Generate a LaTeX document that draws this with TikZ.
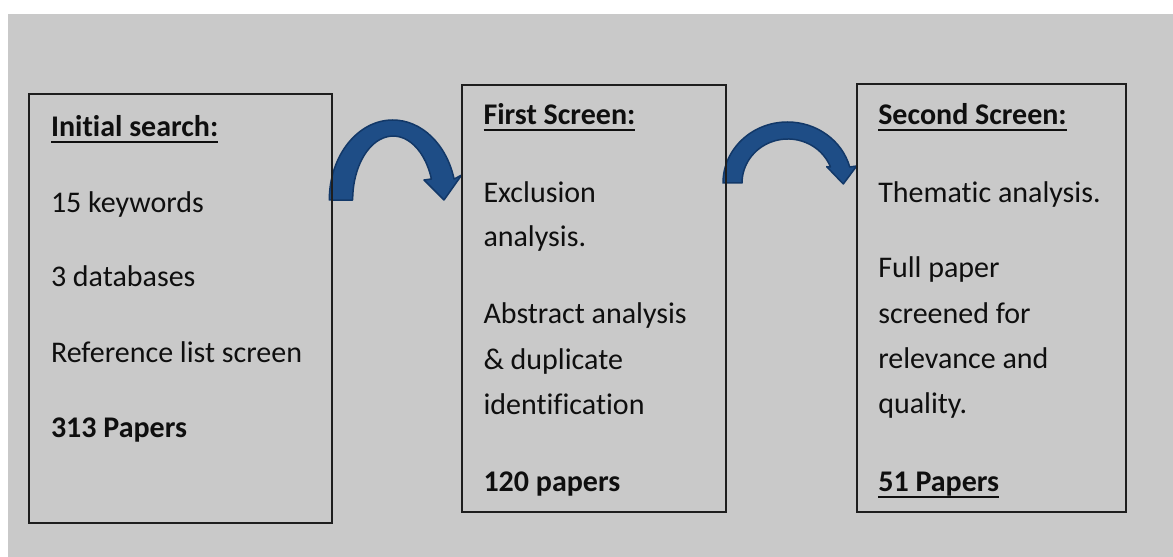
\documentclass[tikz,border=0pt]{standalone}
\usepackage{fontspec}
\setmainfont{Carlito}[Ligatures={NoCommon}]
\newcommand\myul[1]{\setbox0\hbox{#1}\rlap{\rule[-6pt]{\wd0}{2pt}}#1}
\definecolor{bggray}{RGB}{201,201,201}
\definecolor{arrowblue}{RGB}{30,77,134}
\definecolor{arrowedge}{RGB}{18,56,104}
\definecolor{boxedge}{RGB}{30,30,30}
\definecolor{txtcol}{RGB}{15,15,15}
\begin{document}
\begin{tikzpicture}[x=1pt,y=1pt,
  boxst/.style={draw=boxedge, line width=2pt, inner sep=0pt, outer sep=0pt},
  txt/.style={anchor=base west, inner sep=0pt, outer sep=0pt, text=txtcol, font=\fontsize{30}{36}\selectfont},
  bold/.style={txt, font=\fontsize{30}{36}\selectfont\bfseries},
  arrowst/.style={fill=arrowblue, draw=arrowedge, line width=1.5pt, line join=round}]
\useasboundingbox (0,0) rectangle (1173,557);
\fill[white] (0,0) rectangle (1173,557);
\fill[bggray] (8,0) rectangle (1173,543);
% curved arrows
\path[arrowst] (329.3,357) arc[start angle=180, end angle=15.2, x radius=63.5, y radius=80]
  -- (461.7,382) -- (444,357) -- (424,377) -- (431.4,378)
  arc[start angle=19.2, end angle=180, x radius=40.5, y radius=64] -- cycle;
\path[arrowst] (723,374) arc[start angle=180, end angle=15.2, x radius=64.5, y radius=61]
  -- (856.7,391) -- (843.3,373) -- (826.7,390.3) -- (830.5,390)
  arc[start angle=21.3, end angle=180, x radius=45.8, y radius=44] -- cycle;
% boxes
\node[boxst, minimum width=303, minimum height=428.2] (b1) at (180.5,248.4) {};
\node[boxst, minimum width=264, minimum height=427.1] (b2) at (593.5,258.75) {};
\node[boxst, minimum width=269, minimum height=427.8] (b3) at (991,258.6) {};
% box 1 text
\node[bold] (t11) at (51,420) {\myul{Initial search:}};
\node[txt] (t12) at (51,344.5) {15 keywords};
\node[txt] (t13) at (51,270) {3 databases};
\node[txt] (t14) at (51,194) {Reference list screen};
\node[bold] (t15) at (51,119) {313 Papers};
% box 2 text
\node[bold] (t21) at (483.5,432) {\myul{First Screen:}};
\node[txt] (t22) at (483.5,354.3) {Exclusion};
\node[txt] (t23) at (483.5,310.3) {analysis.};
\node[txt] (t24) at (483.5,233.7) {Abstract analysis};
\node[txt] (t25) at (483.5,187.7) {\& duplicate};
\node[txt] (t26) at (483.5,142) {identification};
\node[bold] (t27) at (483.5,65.3) {120 papers};
% box 3 text
\node[bold] (t31) at (878.3,432) {\myul{Second Screen:}};
\node[txt] (t32) at (878.3,354.3) {Thematic analysis.};
\node[txt] (t33) at (878.3,279.7) {Full paper};
\node[txt] (t34) at (878.3,233.7) {screened for};
\node[txt] (t35) at (878.3,188.7) {relevance and};
\node[txt] (t36) at (878.3,143) {quality.};
\node[bold] (t37) at (878.3,65.3) {\myul{51 Papers}};
\end{tikzpicture}
\end{document}
